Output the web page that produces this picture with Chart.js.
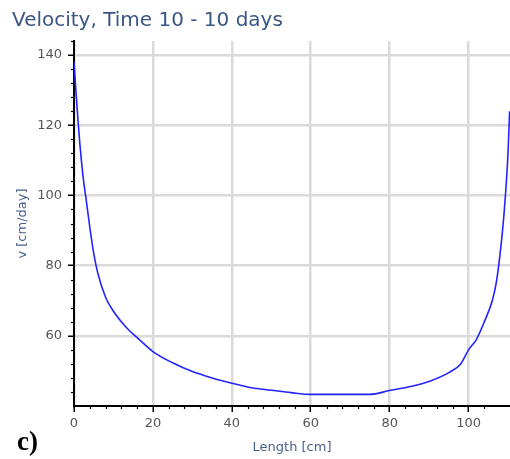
<!DOCTYPE html>
<html>
<head>
<meta charset="utf-8">
<script src="https://cdn.jsdelivr.net/npm/chart.js@4"></script>
<style>
  body { margin: 0; background: #fff; }
  #wrap { width: 510px; height: 459px; }
</style>
</head>
<body>
<div id="wrap"><canvas id="chart" width="510" height="459"></canvas></div>
<script>
// values
const lengthCm = [0, 0.5, 1, 1.5, 2, 2.5, 3, 4, 5, 6, 8, 10, 12, 14, 16, 20, 25, 30, 35, 40, 45, 50, 55, 60, 65, 70, 75, 80, 85, 90, 95, 98, 100, 102, 104, 106, 107, 108, 109, 110, 110.4];
const velocity = [138, 129.5, 121.5, 114.5, 108.5, 103.5, 99.5, 91, 83.5, 78, 71, 67, 64, 61.5, 59.5, 55.5, 52.3, 49.8, 48, 46.5, 45.2, 44.5, 43.8, 43.3, 43.3, 43.3, 43.3, 44.4, 45.5, 47, 49.5, 52, 56, 59, 64, 70, 75, 83.5, 95, 112, 124];
const xTickLabels = [0, 20, 40, 60, 80, 100];
const yTickLabels = [60, 80, 100, 120, 140];

const chartTitle = "Velocity, Time 10 - 10 days";
const panelLabel = "c)";

const isMajor = (v, list) => list.includes(Math.round(v * 1000) / 1000);

// title, panel letter, short minor ticks
const extrasPlugin = {
  id: "extras",
  afterDraw(chart) {
    const ctx = chart.ctx;
    const area = chart.chartArea;
    ctx.save();
    ctx.fillStyle = "#3b5584";
    ctx.font = "20px 'DejaVu Sans'";
    ctx.textBaseline = "alphabetic";
    ctx.fillText(chartTitle, 12, 26);

    ctx.fillStyle = "#000";
    ctx.font = "bold 27px 'Liberation Serif'";
    ctx.fillText(panelLabel, 17, 450);

    ctx.strokeStyle = "#000";
    ctx.lineWidth = 1.2;
    const xs = chart.scales.x;
    xs.ticks.forEach(t => {
      if (isMajor(t.value, xTickLabels) || t.value === 0) return;
      const px = Math.round(xs.getPixelForValue(t.value)) + 0.5;
      ctx.beginPath();
      ctx.moveTo(px, area.bottom);
      ctx.lineTo(px, area.bottom + 3);
      ctx.stroke();
    });
    const ys = chart.scales.y;
    ys.ticks.forEach(t => {
      if (isMajor(t.value, yTickLabels) || t.value === 40) return;
      const py = Math.round(ys.getPixelForValue(t.value)) + 0.5;
      ctx.beginPath();
      ctx.moveTo(area.left, py);
      ctx.lineTo(area.left - 3, py);
      ctx.stroke();
    });
    ctx.restore();
  }
};

const onStep = v => Math.abs(v / 4 - Math.round(v / 4)) < 1e-9;

new Chart(document.getElementById("chart"), {
  type: "line",
  data: {
    datasets: [{
      data: lengthCm.map((x, i) => ({ x: x, y: velocity[i] })),
      borderColor: "#2323ff",
      borderWidth: 1.6,
      pointRadius: 0,
      cubicInterpolationMode: "monotone",
      fill: false
    }]
  },
  options: {
    responsive: false,
    animation: false,
    layout: { padding: { top: 41, left: 0, right: 0, bottom: 0 } },
    plugins: {
      legend: { display: false },
      tooltip: { enabled: false },
      title: { display: false }
    },
    scales: {
      x: {
        type: "linear",
        min: 0,
        max: 110.5,
        afterBuildTicks: s => { s.ticks = s.ticks.filter(t => onStep(t.value)); },
        afterFit: s => { s.height = 53; },
        ticks: {
          stepSize: 4,
          autoSkip: false,
          maxRotation: 0,
          padding: 4,
          color: "#555",
          font: { family: "DejaVu Sans", size: 13 },
          callback: v => isMajor(v, xTickLabels) ? String(v) : ""
        },
        grid: {
          color: c => (c.tick && isMajor(c.tick.value, xTickLabels)) ? "#dadada" : "rgba(0,0,0,0)",
          lineWidth: 2.5,
          tickLength: 6,
          tickColor: c => (c.tick && isMajor(c.tick.value, xTickLabels)) ? "#000" : "rgba(0,0,0,0)",
          tickWidth: 1.5
        },
        border: { color: "#000", width: 2 },
        title: {
          display: true,
          text: "Length [cm]",
          color: "#4a5f8c",
          font: { family: "DejaVu Sans", size: 13 },
          padding: { top: 0, bottom: 4 }
        }
      },
      y: {
        type: "linear",
        min: 40,
        max: 144,
        afterFit: s => { s.width = 74; },
        ticks: {
          stepSize: 4,
          autoSkip: false,
          padding: 6,
          color: "#555",
          font: { family: "DejaVu Sans", size: 13 },
          callback: v => isMajor(v, yTickLabels) ? String(v) : ""
        },
        grid: {
          color: c => (c.tick && isMajor(c.tick.value, yTickLabels)) ? "#dadada" : "rgba(0,0,0,0)",
          lineWidth: 2.5,
          tickLength: 6,
          tickColor: c => (c.tick && isMajor(c.tick.value, yTickLabels)) ? "#000" : "rgba(0,0,0,0)",
          tickWidth: 1.5
        },
        border: { color: "#000", width: 2 },
        title: {
          display: true,
          text: "v [cm/day]",
          color: "#4a5f8c",
          font: { family: "DejaVu Sans", size: 13 },
          padding: { top: 15, bottom: 0 }
        }
      }
    }
  },
  plugins: [extrasPlugin]
});
</script>
</body>
</html>
